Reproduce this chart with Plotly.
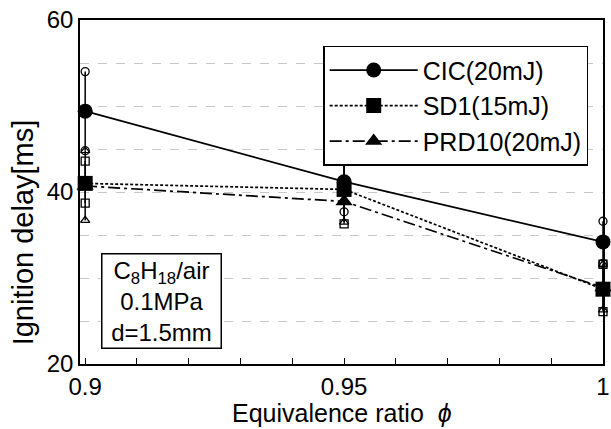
import plotly.graph_objects as go

# equivalence ratio
phi = [0.9, 0.95, 1.0]

# mean ignition delay [ms]
cic_mean = [49.4, 41.2, 34.2]
sd1_mean = [41.0, 40.3, 28.7]
prd_mean = [40.7, 38.9, 28.9]

# scatter of individual runs (max / min)
cic_max = [54.0, 44.8, 36.6]
cic_min = [44.8, 37.7, 31.7]
sd1_max = [43.6, 44.3, 31.6]
sd1_min = [38.7, 36.3, 26.1]
prd_max = [44.8, 44.5, 31.6]
prd_min = [36.7, 36.5, 26.3]

FONT = "Liberation Sans, Arial, sans-serif"

series = [
    ("CIC(20mJ)", cic_mean, cic_max, cic_min, "circle", "solid"),
    ("SD1(15mJ)", sd1_mean, sd1_max, sd1_min, "square", "3px,2px"),
    ("PRD10(20mJ)", prd_mean, prd_max, prd_min, "triangle-up", "12px,4px,3px,4px"),
]

fig = go.Figure()

# vertical spread bars with small open markers at the ends
for name, mean, hi, lo, sym, dash in series:
    xs, ys = [], []
    for x, a, b in zip(phi, hi, lo):
        xs += [x, x, None]
        ys += [a, b, None]
    fig.add_trace(go.Scatter(
        x=xs, y=ys, mode="lines+markers", showlegend=False, hoverinfo="skip",
        line=dict(color="black", width=1.5),
        marker=dict(symbol=sym + "-open", size=8, color="black",
                    line=dict(width=1.3, color="black")),
        cliponaxis=False,
    ))

for name, mean, hi, lo, sym, dash in series:
    fig.add_trace(go.Scatter(
        x=phi, y=mean, name=name, mode="lines+markers",
        line=dict(color="black", width=1.7, dash=dash),
        marker=dict(symbol=sym, size=15, color="black"),
        cliponaxis=False,
    ))

fig.add_annotation(
    xref="paper", yref="paper", x=0.155, y=0.183,
    xanchor="center", yanchor="middle",
    text="C<sub>8</sub>H<sub>18</sub>/air<br>0.1MPa<br>d=1.5mm",
    showarrow=False, font=dict(family=FONT, size=24, color="black"),
    bordercolor="black", borderwidth=1.5, borderpad=2, bgcolor="white",
    width=114,
)

# axis titles
fig.add_annotation(
    xref="paper", yref="paper", x=0.5, y=-0.142,
    xanchor="center", yanchor="middle", showarrow=False,
    text="Equivalence ratio  <i>ϕ</i>", font=dict(family=FONT, size=25, color="black"),
)
fig.add_annotation(
    xref="paper", yref="paper", x=-0.11, y=0.384,
    xanchor="center", yanchor="middle", showarrow=False, textangle=-90,
    text="Ignition delay[ms]", font=dict(family=FONT, size=29, color="black"),
)

fig.update_layout(
    width=611, height=429,
    margin=dict(l=80, r=8, t=20, b=65),
    paper_bgcolor="white", plot_bgcolor="white",
    font=dict(family=FONT, size=24, color="black"),
    legend=dict(
        x=0.465, y=0.925, xanchor="left", yanchor="top",
        bgcolor="white", bordercolor="black", borderwidth=1.5,
        font=dict(size=25), itemwidth=88, tracegroupgap=0,
    ),
    xaxis=dict(
        range=[0.899, 1.0], automargin=False,
        tickvals=[0.9, 0.95, 1.0], ticktext=["0.9", "0.95", "1"],
        ticks="inside", ticklen=6, tickcolor="black",
        minor=dict(dtick=0.01, tick0=0.9, ticks="inside", ticklen=6, tickcolor="black"),
        showline=True, linecolor="black", linewidth=1.5, mirror=True,
        showgrid=False, zeroline=False,
    ),
    yaxis=dict(
        range=[20, 60], automargin=False,
        tickvals=[20, 40, 60],
        ticks="", showline=True, linecolor="black", linewidth=1.5, mirror=True,
        showgrid=True, gridcolor="#c8c8c8", griddash="dash", gridwidth=1,
        minor=dict(dtick=5, tick0=20, showgrid=True, gridcolor="#c8c8c8",
                   griddash="dash", gridwidth=1),
        zeroline=False,
    ),
)

fig.write_html("out.html", config={"displayModeBar": False},
               post_script="document.body.style.margin='0';")
